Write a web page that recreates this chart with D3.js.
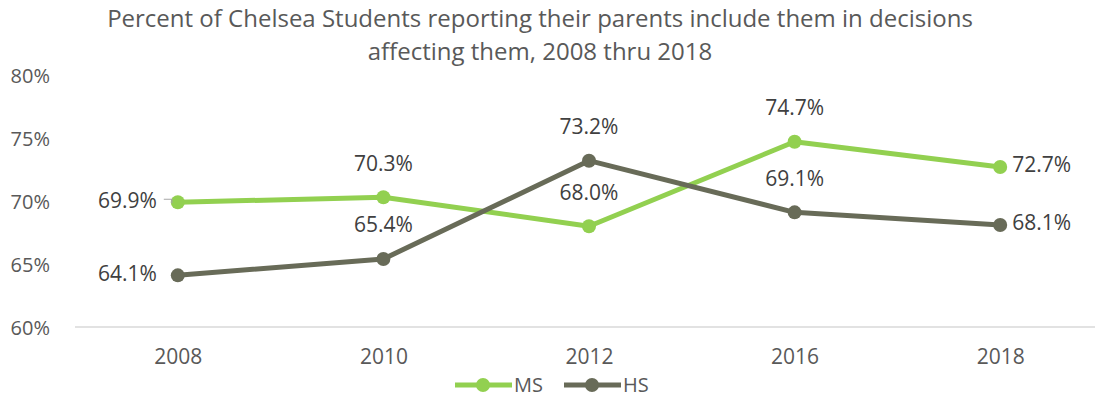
<!DOCTYPE html>
<html>
<head>
<meta charset="utf-8">
<script src="https://cdn.jsdelivr.net/npm/d3@7/dist/d3.min.js"></script>
<style>
  html, body { margin: 0; padding: 0; background: #fff; }
  svg { display: block; font-family: "Open Sans", Lato, sans-serif; }
</style>
</head>
<body>
<svg id="chart" width="1095" height="397"></svg>
<script>
// Survey years and the two series (percent)
const years = ["2008", "2010", "2012", "2016", "2018"];
const msValues = [69.9, 70.3, 68.0, 74.7, 72.7];
const hsValues = [64.1, 65.4, 73.2, 69.1, 68.1];
const yTicks = [60, 65, 70, 75, 80];
const titleLines = [
  "Percent of Chelsea Students reporting their parents include them in decisions",
  "affecting them, 2008 thru 2018"
];

// Label placement per point: "left", "above", "right"
const msLabelPos = ["left", "above", "above", "above", "right"];
const hsLabelPos = ["left", "above", "above", "above", "right"];

const svg = d3.select("#chart");
const W = 1095, H = 397;
const plot = { left: 75, right: 1103, top: 75, bottom: 327 };
const FONT = "'Open Sans', Lato, sans-serif";

const x = d3.scalePoint().domain(years).range([plot.left, plot.right]).padding(0.5);
const y = d3.scaleLinear().domain([60, 80]).range([plot.bottom, plot.top]);

// Title
svg.append("g").selectAll("text").data(titleLines).join("text")
  .attr("x", 540).attr("y", (d, i) => 27 + i * 33)
  .attr("text-anchor", "middle")
  .attr("fill", "#595959").attr("font-size", 24)
  .text(d => d);

// Y axis labels
const yAxis = d3.axisLeft(y).tickValues(yTicks).tickSize(0).tickFormat(d => d + "%");
svg.append("g").attr("transform", "translate(53,0)").call(yAxis)
  .call(g => g.select(".domain").remove())
  .call(g => g.selectAll("text").attr("fill", "#595959").attr("font-size", 20)
    .attr("font-family", FONT).attr("dy", "0.35em"));

// X axis baseline and labels
svg.append("line")
  .attr("x1", plot.left).attr("x2", W)
  .attr("y1", y(60)).attr("y2", y(60))
  .attr("stroke", "#d9d9d9").attr("stroke-width", 1.5);

const xAxis = d3.axisBottom(x).tickSize(0).tickPadding(0);
svg.append("g").attr("transform", `translate(0,${y(60)})`).call(xAxis)
  .call(g => g.select(".domain").remove())
  .call(g => g.selectAll("text").attr("fill", "#595959").attr("font-size", 21)
    .attr("font-family", FONT).attr("y", 30).attr("dy", "0.35em"));

const series = [
  { name: "MS", values: msValues, color: "#92d050", pos: msLabelPos },
  { name: "HS", values: hsValues, color: "#686b58", pos: hsLabelPos }
];

const line = d3.line().x((d, i) => x(years[i])).y(d => y(d));

series.forEach(s => {
  const g = svg.append("g");
  g.append("path").datum(s.values)
    .attr("d", line).attr("fill", "none")
    .attr("stroke", s.color).attr("stroke-width", 5)
    .attr("stroke-linejoin", "round");
  g.selectAll("circle").data(s.values).join("circle")
    .attr("cx", (d, i) => x(years[i])).attr("cy", d => y(d))
    .attr("r", 7).attr("fill", s.color);
});

// Data labels
series.forEach(s => {
  svg.append("g").selectAll("text").data(s.values).join("text")
    .attr("x", (d, i) => {
      const cx = x(years[i]);
      if (s.pos[i] === "left") return cx - 21;
      if (s.pos[i] === "right") return cx + 12;
      return cx;
    })
    .attr("y", (d, i) => s.pos[i] === "above" ? y(d) - 34 : y(d) - 2)
    .attr("dy", "0.35em")
    .attr("text-anchor", (d, i) => s.pos[i] === "left" ? "end" : s.pos[i] === "right" ? "start" : "middle")
    .attr("fill", "#404040").attr("font-size", 21)
    .text(d => d.toFixed(1) + "%");
});

// Short leader next to the first MS label
svg.append("path")
  .attr("d", `M${x(years[0]) - 14},${y(msValues[0]) - 3} h8 v4`)
  .attr("fill", "none").attr("stroke", "#a6a6a6").attr("stroke-width", 1.2);

// Legend
const legend = svg.append("g").attr("transform", "translate(0,385)");
const legendItems = [
  { name: "MS", color: "#92d050", x0: 455 },
  { name: "HS", color: "#686b58", x0: 564 }
];
legendItems.forEach(item => {
  legend.append("line").attr("x1", item.x0).attr("x2", item.x0 + 57)
    .attr("y1", 0).attr("y2", 0)
    .attr("stroke", item.color).attr("stroke-width", 5);
  legend.append("circle").attr("cx", item.x0 + 28).attr("cy", 0).attr("r", 7).attr("fill", item.color);
  legend.append("text").attr("x", item.x0 + 59).attr("y", 0).attr("dy", "0.35em")
    .attr("fill", "#595959").attr("font-size", 20).text(item.name);
});
</script>
</body>
</html>
